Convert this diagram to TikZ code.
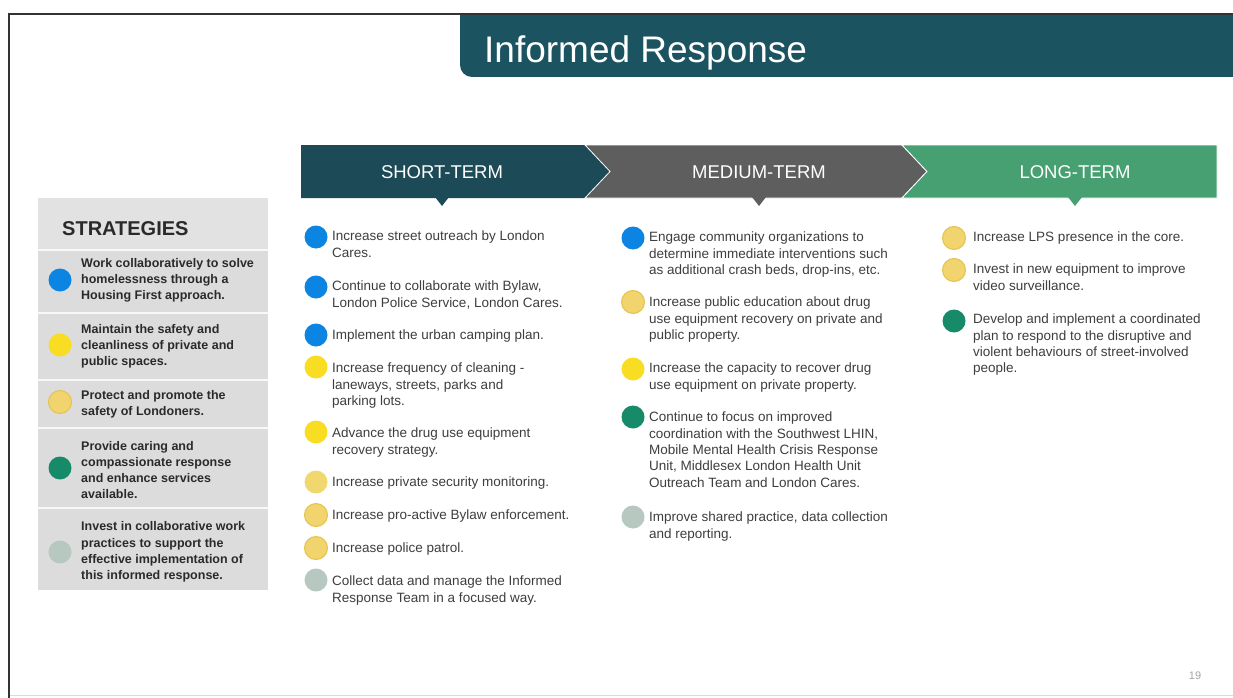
\documentclass[tikz,border=0pt]{standalone}
\usepackage{fontspec}
\setmainfont{Liberation Sans}
\usepackage{tikz}
\usetikzlibrary{positioning}

\definecolor{bannerteal}{HTML}{1B5361}
\definecolor{shortteal}{HTML}{1C4A56}
\definecolor{midgray}{HTML}{5E5E5E}
\definecolor{longgreen}{HTML}{46A072}
\definecolor{dotblue}{HTML}{0B84E2}
\definecolor{dotyellow}{HTML}{F8DD22}
\definecolor{dotpale}{HTML}{F1D86E}
\definecolor{dotgold}{HTML}{F2D46E}
\definecolor{goldrim}{HTML}{E6C24A}
\definecolor{dotgreen}{HTML}{178A6A}
\definecolor{dotgrey}{HTML}{B6C8C0}
\definecolor{bodytext}{HTML}{3E3E3E}
\definecolor{strattext}{HTML}{2A2A2A}
\definecolor{panelgray}{HTML}{DCDCDC}
\definecolor{panelhead}{HTML}{E2E2E2}

\tikzset{
  dot/.style={circle, inner sep=0pt, minimum size=23pt},
  golddot/.style={dot, fill=dotgold, draw=goldrim, line width=1pt},
  item/.style={anchor=north west, inner sep=0pt, align=left, text=bodytext,
    font=\fontsize{13.5}{16.3}\selectfont},
  strat/.style={anchor=west, inner sep=0pt, align=left, text=strattext,
    font=\bfseries\fontsize{12.5}{16.2}\selectfont},
  termlabel/.style={inner sep=0pt, text=white, font=\fontsize{18.5}{20}\selectfont}
}

\begin{document}
\begin{tikzpicture}[x=1pt,y=-1pt]
\useasboundingbox (0,0) rectangle (1233,698);
\fill[white] (0,0) rectangle (1233,698);

\draw[black!15, line width=1pt] (9,695)--(1233,695);
\fill[bannerteal, rounded corners=12] (460,14) rectangle (1260,77);
\fill[bannerteal] (460,14) rectangle (490,40);
\draw[black!80, line width=2.5pt] (9,14)--(1233,14);
\draw[black!80, line width=2.5pt] (9,13)--(9,698);
\node[anchor=base west, inner sep=0pt, text=white, font=\fontsize{37}{40}\selectfont] (title) at (484,63) {Informed Response};

\fill[shortteal] (301,145)--(585,145)--(610,171.5)--(585,198)--(301,198)--cycle;
\fill[shortteal] (435,197)--(449,197)--(442,206)--cycle;
\fill[midgray, draw=white, line width=0.8pt] (585,145)--(902,145)--(927,171.5)--(902,198)--(585,198)--(610,171.5)--cycle;
\fill[midgray] (752,197)--(766,197)--(759,206)--cycle;
\fill[longgreen, draw=white, line width=0.8pt] (902,145)--(1217,145)--(1217,198)--(902,198)--(927,171.5)--cycle;
\fill[longgreen] (1068,197)--(1082,197)--(1075,206)--cycle;
\node[termlabel] (short) at (442,172) {SHORT-TERM};
\node[termlabel] (medium) at (759,172) {MEDIUM-TERM};
\node[termlabel] (long) at (1075,172) {LONG-TERM};

\fill[panelgray] (38,198) rectangle (268,590);
\fill[panelhead] (38,198) rectangle (268,250);
\draw[white!80!panelgray, line width=2pt] (38,250)--(268,250);
\draw[white!80!panelgray, line width=2pt] (38,313)--(268,313);
\draw[white!80!panelgray, line width=2pt] (38,380)--(268,380);
\draw[white!80!panelgray, line width=2pt] (38,428)--(268,428);
\draw[white!80!panelgray, line width=2pt] (38,508)--(268,508);
\node[anchor=base west, inner sep=0pt, text=strattext, font=\bfseries\fontsize{20}{22}\selectfont] (strategies) at (62,235) {STRATEGIES};

\node[dot, fill=dotblue] (s1) at (60,280) {};
\node[strat] (s1t) at (81,280) {Work collaboratively to solve\\homelessness through a\\Housing First approach.};
\node[dot, fill=dotyellow] (s2) at (60,345) {};
\node[strat] (s2t) at (81,346) {Maintain the safety and\\cleanliness of private and\\public spaces.};
\node[golddot] (s3) at (60,402) {};
\node[strat] (s3t) at (81,404) {Protect and promote the\\safety of Londoners.};
\node[dot, fill=dotgreen] (s4) at (60,468) {};
\node[strat] (s4t) at (81,470) {Provide caring and\\compassionate response\\and enhance services\\available.};
\node[dot, fill=dotgrey] (s5) at (60,552) {};
\node[strat] (s5t) at (81,552) {Invest in collaborative work\\practices to support the\\effective implementation of\\this informed response.};

\node[dot, fill=dotblue] (a1) at (316,237) {};
\node[item] (a1t) at (332,231) {Increase street outreach by London\\Cares.};
\node[dot, fill=dotblue] (a2) at (316,287) {};
\node[item] (a2t) at (332,281) {Continue to collaborate with Bylaw,\\London Police Service, London Cares.};
\node[dot, fill=dotblue] (a3) at (316,335) {};
\node[item] (a3t) at (332,330) {Implement the urban camping plan.};
\node[dot, fill=dotyellow] (a4) at (316,367) {};
\node[item] (a4t) at (332,363) {Increase frequency of cleaning -\\laneways, streets, parks and\\parking lots.};
\node[dot, fill=dotyellow] (a5) at (316,432) {};
\node[item] (a5t) at (332,428) {Advance the drug use equipment\\recovery strategy.};
\node[dot, fill=dotpale] (a6) at (316,482) {};
\node[item] (a6t) at (332,477) {Increase private security monitoring.};
\node[golddot] (a7) at (316,515) {};
\node[item] (a7t) at (332,510) {Increase pro-active Bylaw enforcement.};
\node[golddot] (a8) at (316,548) {};
\node[item] (a8t) at (332,543) {Increase police patrol.};
\node[dot, fill=dotgrey] (a9) at (316,580) {};
\node[item] (a9t) at (332,576) {Collect data and manage the Informed\\Response Team in a focused way.};

\node[dot, fill=dotblue] (m1) at (633,238) {};
\node[item] (m1t) at (649,232) {Engage community organizations to\\determine immediate interventions such\\as additional crash beds, drop-ins, etc.};
\node[golddot] (m2) at (633,302) {};
\node[item] (m2t) at (649,297) {Increase public education about drug\\use equipment recovery on private and\\public property.};
\node[dot, fill=dotyellow] (m3) at (633,369) {};
\node[item] (m3t) at (649,363) {Increase the capacity to recover drug\\use equipment on private property.};
\node[dot, fill=dotgreen] (m4) at (633,417) {};
\node[item] (m4t) at (649,412) {Continue to focus on improved\\coordination with the Southwest LHIN,\\Mobile Mental Health Crisis Response\\Unit, Middlesex London Health Unit\\Outreach Team and London Cares.};
\node[dot, fill=dotgrey] (m5) at (633,517) {};
\node[item] (m5t) at (649,512) {Improve shared practice, data collection\\and reporting.};

\node[golddot] (l1) at (954,238) {};
\node[item] (l1t) at (973,232) {Increase LPS presence in the core.};
\node[golddot] (l2) at (954,270) {};
\node[item] (l2t) at (973,264) {Invest in new equipment to improve\\video surveillance.};
\node[dot, fill=dotgreen] (l3) at (954,321) {};
\node[item] (l3t) at (973,314) {Develop and implement a coordinated\\plan to respond to the disruptive and\\violent behaviours of street-involved\\people.};

\node[inner sep=0pt, text=black!35, font=\fontsize{11}{12}\selectfont] (pagenum) at (1195,676) {19};
\end{tikzpicture}
\end{document}
